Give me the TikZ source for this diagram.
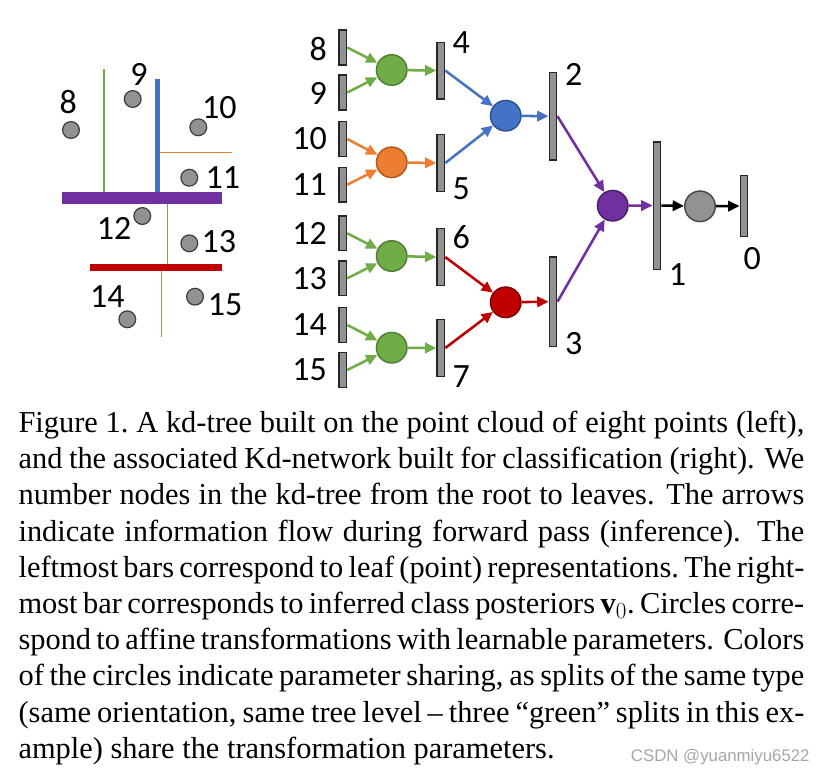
\documentclass[tikz,border=0pt]{standalone}
\usepackage{fontspec}
\usetikzlibrary{arrows.meta}
\newfontfamily\lblfont{Carlito}
\newfontfamily\capfont[Ligatures=TeX]{Liberation Serif}
\newfontfamily\wmfont{Liberation Sans}
\definecolor{cgreen}{HTML}{70AD47}
\definecolor{cgreenD}{HTML}{507E32}
\definecolor{corange}{HTML}{ED7D31}
\definecolor{corangeD}{HTML}{AE5A21}
\definecolor{cblue}{HTML}{4472C4}
\definecolor{cblueD}{HTML}{2F528F}
\definecolor{cred}{HTML}{C00000}
\definecolor{credD}{HTML}{7F0000}
\definecolor{cpurple}{HTML}{7030A0}
\definecolor{cpurpleD}{HTML}{4A1F6A}
\definecolor{cgray}{HTML}{929292}
\definecolor{cgrayD}{HTML}{262626}
\definecolor{wmgray}{HTML}{A6A6A6}
\begin{document}
\begin{tikzpicture}[x=0.75pt,y=-0.75pt,
  bar/.style={draw=cgrayD, fill=cgray, line width=1.1pt, rectangle, inner sep=0pt, minimum width=5.6pt},
  sbar/.style={bar, minimum height=26pt},
  mbar/.style={bar, minimum height=42.4pt},
  op/.style={circle, inner sep=0pt, minimum size=22.9pt, line width=1.1pt},
  gop/.style={op, fill=cgreen, draw=cgreenD},
  pt/.style={circle, inner sep=0pt, minimum size=12.6pt, fill=cgray, draw=cgrayD!90, line width=0.9pt},
  lbl/.style={font=\lblfont\fontsize{25.5}{30}\selectfont, inner sep=0pt},
  captxt/.style={font=\capfont\fontsize{22.8}{27}\selectfont, inner sep=0pt, anchor=base west},
  arr/.style={line width=1.9pt, -{Triangle[length=8.5pt,width=7.8pt]}}]
\useasboundingbox (0,0) rectangle (828,776);

% ---------- kd-tree (left) ----------
\draw[cgreen, line width=1pt] (104,69) -- (104,192);
\draw[cblue, line width=3.75pt] (157.5,79) -- (157.5,192);
\draw[corange, line width=1.1pt] (160,152.7) -- (232,152.7);
\draw[cgreen, line width=1pt] (167.7,204) -- (167.7,264);
\draw[cgreen, line width=1pt] (161.7,271) -- (161.7,337);
\draw[cpurple, line width=8.5pt] (62,198) -- (222,198);
\draw[cred, line width=4.9pt] (90,267.5) -- (222,267.5);

\node[pt] (p8) at (71,130) {};
\node[pt] (p9) at (132.7,99) {};
\node[pt] (p10) at (198.3,127.3) {};
\node[pt] (p11) at (189.3,177.7) {};
\node[pt] (p12) at (142.3,216) {};
\node[pt] (p13) at (189.3,243.3) {};
\node[pt] (p14) at (127.3,319.3) {};
\node[pt] (p15) at (195,296.7) {};

\node[lbl] (k8) at (68.3,101.7) {8};
\node[lbl] (k9) at (139,74.7) {9};
\node[lbl] (k10) at (219.3,107.5) {10};
\node[lbl] (k11) at (222.8,177.7) {11};
\node[lbl] (k12) at (114,228.3) {12};
\node[lbl] (k13) at (218.8,241.7) {13};
\node[lbl] (k14) at (107.3,296.3) {14};
\node[lbl] (k15) at (225,305) {15};

% ---------- Kd-network (right) ----------
\node[sbar] (b8) at (342.8,47.5) {};
\node[sbar] (b9) at (342.8,92.5) {};
\node[sbar] (b10) at (342.8,139) {};
\node[sbar] (b11) at (342.8,184.7) {};
\node[sbar] (b12) at (342.8,233.3) {};
\node[sbar] (b13) at (342.8,278.3) {};
\node[sbar] (b14) at (342.8,325) {};
\node[sbar] (b15) at (342.8,370) {};
\node[mbar] (b4) at (440.8,70.5) {};
\node[mbar] (b5) at (440.8,163) {};
\node[mbar] (b6) at (440.8,257) {};
\node[mbar] (b7) at (440.8,348) {};
\node[bar, minimum height=65.6pt] (b2) at (553,116.2) {};
\node[bar, minimum height=67.1pt] (b3) at (553,301.7) {};
\node[bar, minimum height=95.6pt] (b1) at (657,205.5) {};
\node[bar, minimum height=46.1pt] (b0) at (744,206) {};

\node[gop] (g1) at (391.7,70) {};
\node[op, fill=corange, draw=corangeD] (o1) at (391.7,162.3) {};
\node[gop] (g2) at (391.7,256) {};
\node[gop] (g3) at (391.7,347.7) {};
\node[op, fill=cblue, draw=cblueD] (bl) at (505.7,115.7) {};
\node[op, fill=cred, draw=credD] (rd) at (505.7,302.3) {};
\node[op, fill=cpurple, draw=cpurpleD] (pu) at (612.7,205.7) {};
\node[op, fill=cgray, draw=cgrayD!85] (gy) at (700,206.3) {};

\node[lbl, anchor=east] (n8) at (327,49.3) {8};
\node[lbl, anchor=east] (n9) at (327,93.3) {9};
\node[lbl, anchor=east] (n10) at (327,138.3) {10};
\node[lbl, anchor=east] (n11) at (327,185) {11};
\node[lbl, anchor=east] (n12) at (327,233.3) {12};
\node[lbl, anchor=east] (n13) at (327,278.3) {13};
\node[lbl, anchor=east] (n14) at (327,325) {14};
\node[lbl, anchor=east] (n15) at (327,370) {15};
\node[lbl] (n4) at (461.3,42.5) {4};
\node[lbl] (n5) at (461.3,188.5) {5};
\node[lbl] (n6) at (461.3,237.5) {6};
\node[lbl] (n7) at (461.3,376.7) {7};
\node[lbl] (n2) at (573.7,74) {2};
\node[lbl] (n3) at (573.7,344) {3};
\node[lbl] (n1) at (677.5,275) {1};
\node[lbl] (n0) at (752.3,259) {0};

\draw[arr, cgreen] (b8.east) -- (g1);
\draw[arr, cgreen] (b9.east) -- (g1);
\draw[arr, cgreen] (g1) -- (b4.west);
\draw[arr, corange] (b10.east) -- (o1);
\draw[arr, corange] (b11.east) -- (o1);
\draw[arr, corange] (o1) -- (b5.west);
\draw[arr, cgreen] (b12.east) -- (g2);
\draw[arr, cgreen] (b13.east) -- (g2);
\draw[arr, cgreen] (g2) -- (b6.west);
\draw[arr, cgreen] (b14.east) -- (g3);
\draw[arr, cgreen] (b15.east) -- (g3);
\draw[arr, cgreen] (g3) -- (b7.west);
\draw[arr, cblue] (b4.east) -- (bl);
\draw[arr, cblue] (b5.east) -- (bl);
\draw[arr, cblue] (bl) -- (b2.west);
\draw[arr, cred] (b6.east) -- (rd);
\draw[arr, cred] (b7.east) -- (rd);
\draw[arr, cred] (rd) -- (b3.west);
\draw[arr, cpurple] (b2.east) -- (pu);
\draw[arr, cpurple] (b3.east) -- (pu);
\draw[arr, cpurple] (pu) -- (b1.west);
\draw[arr, black] (b1.east) -- (gy);
\draw[arr, black] (gy) -- (b0.west);

% ---------- caption ----------
\node[captxt] (c1) at (18.3,432.5) {\makebox[589.3pt][s]{Figure 1.\ A kd-tree built on the point cloud of eight points (left),}};
\node[captxt] (c2) at (18.3,468.7) {\makebox[589.3pt][s]{and the associated Kd-network built for classification (right). We}};
\node[captxt] (c3) at (18.3,504.9) {\makebox[589.3pt][s]{number nodes in the kd-tree from the root to leaves. The arrows}};
\node[captxt] (c4) at (18.3,541.1) {\makebox[589.3pt][s]{indicate information flow during forward pass (inference). The}};
\node[captxt] (c5) at (18.3,577.3) {\makebox[589.3pt][s]{leftmost bars correspond to leaf (point) representations.\ The right-}};
\node[captxt] (c6) at (18.3,613.5) {\makebox[589.3pt][s]{most bar corresponds to inferred class posteriors \textbf{v}$_0$.\ Circles corre-}};
\node[captxt] (c7) at (18.3,649.7) {\makebox[589.3pt][s]{spond to affine transformations with learnable parameters. Colors}};
\node[captxt] (c8) at (18.3,685.9) {\makebox[589.3pt][s]{of the circles indicate parameter sharing, as splits of the same type}};
\node[captxt] (c9) at (18.3,722.1) {\makebox[589.3pt][s]{(same orientation, same tree level – three “green” splits in this ex-}};
\node[captxt] (c10) at (18.3,758.3) {ample) share the transformation parameters.};
\node[anchor=base west, inner sep=0pt, text=wmgray, font=\wmfont\fontsize{12.6}{14}\selectfont] (wm) at (630.7,761.7) {CSDN @yuanmiyu6522};
\end{tikzpicture}
\end{document}
